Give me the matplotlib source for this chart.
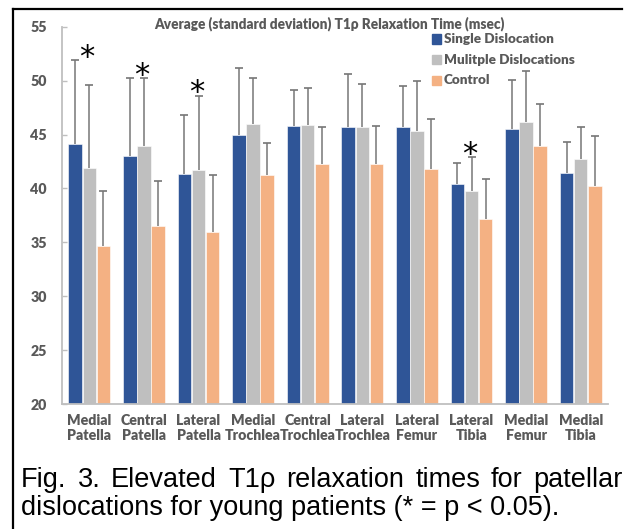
import matplotlib
matplotlib.use('Agg')
import matplotlib.pyplot as plt
import numpy as np
from matplotlib.lines import Line2D

categories = ["Medial\nPatella", "Central\nPatella", "Lateral\nPatella", "Medial\nTrochlea",
              "Central\nTrochlea", "Lateral\nTrochlea", "Lateral\nFemur", "Lateral\nTibia",
              "Medial\nFemur", "Medial\nTibia"]
series_names = ["Single Dislocation", "Mulitple Dislocations", "Control"]
single_mean = [44.1, 43.0, 41.3, 45.0, 45.8, 45.7, 45.7, 40.4, 45.5, 41.4]
single_sd = [7.8, 7.2, 5.5, 6.2, 3.3, 4.9, 3.8, 2.0, 4.6, 2.95]
multiple_mean = [41.9, 43.9, 41.7, 46.0, 45.9, 45.7, 45.3, 39.8, 46.2, 42.7]
multiple_sd = [7.7, 6.3, 6.9, 4.2, 3.4, 4.0, 4.7, 3.1, 4.7, 3.0]
control_mean = [34.7, 36.5, 36.0, 41.2, 42.3, 42.3, 41.8, 37.2, 43.9, 40.2]
control_sd = [5.1, 4.2, 5.2, 3.0, 3.4, 3.5, 4.6, 3.7, 3.9, 4.7]
significant = [True, True, True, False, False, False, False, True, False, False]
yticks = [20, 25, 30, 35, 40, 45, 50, 55]
title = "Average (standard deviation) T1\u03c1 Relaxation Time (msec)"
caption1 = "Fig. 3. Elevated T1\u03c1 relaxation times for patellar"
caption2 = "dislocations for young patients (* = p < 0.05)."

colors = ["#2F5597", "#BFBFBF", "#F4B183"]
TXT = "#595959"
FONT = ["Lato", "DejaVu Sans"]
WEIGHT = 'heavy'

W, H = 632, 529
fig = plt.figure(figsize=(W / 100, H / 100), dpi=100)
ax = fig.add_axes([62 / W, 1 - 404 / H, 546 / W, (404 - 26.7) / H])

x = np.arange(len(categories))
bw = 0.248
means = [single_mean, multiple_mean, control_mean]
sds = [single_sd, multiple_sd, control_sd]
for k in range(3):
    pos = x + (k - 1) * (bw + 0.01)
    m = np.array(means[k])
    s = np.array(sds[k])
    ax.bar(pos, m - 20, bottom=20, width=bw, color=colors[k], edgecolor='white',
           linewidth=0.4, label=series_names[k], zorder=2)
    ax.vlines(pos, m, m + s, colors='#767676', linewidth=1.1, zorder=3)
    ax.plot(pos, m + s, linestyle='none', marker='_', markersize=5.5,
            markeredgewidth=1.2, color='#767676', zorder=3)

tops = np.max([np.array(means[k]) + np.array(sds[k]) for k in range(3)], axis=0)
for i, sig in enumerate(significant):
    if sig:
        ax.text(x[i] - 0.04, tops[i] + 0.25, "*", ha='center', va='center',
                fontsize=22, color='black', family=["DejaVu Sans"])

ax.set_xlim(-0.5, len(categories) - 0.5)
ax.set_ylim(20, 55)
ax.set_yticks(yticks)
ax.set_yticklabels([str(v) for v in yticks], family=FONT, fontweight=WEIGHT,
                   color=TXT, fontsize=10.3)
ax.set_xticks(x)
ax.set_xticklabels(categories, family=FONT, fontweight=WEIGHT, color=TXT,
                   fontsize=10.2, linespacing=1.2)
ax.tick_params(axis='x', length=0, pad=7)
ax.tick_params(axis='y', direction='in', length=3.5, color='#BFBFBF', width=1, pad=11)
for sp in ['top', 'right']:
    ax.spines[sp].set_visible(False)
for sp in ['left', 'bottom']:
    ax.spines[sp].set_color('#BFBFBF')
    ax.spines[sp].set_linewidth(1.3)

fig.text(329 / W, 1 - 24 / H, title, ha='center', va='center', family=FONT,
         fontweight=WEIGHT, color=TXT, fontsize=9.8)

# legend
for k in range(3):
    yy = 1 - (39 + 20.7 * k) / H
    fig.patches.append(plt.Rectangle((432 / W, yy - 4.5 / H), 8.5 / W, 9 / H,
                                     transform=fig.transFigure, color=colors[k]))
    fig.text(444 / W, yy, series_names[k], ha='left', va='center', family=FONT,
             fontweight=WEIGHT, color=TXT, fontsize=9.7)

# frame lines
fig.add_artist(Line2D([12.5 / W, 12.5 / W], [0, 1 - 9 / H], color='black', lw=1.6,
                      transform=fig.transFigure))
fig.add_artist(Line2D([12.5 / W, 622 / W], [1 - 9 / H, 1 - 9 / H], color='black', lw=1.6,
                      transform=fig.transFigure))

# caption
CAPFONT = ["Liberation Sans", "DejaVu Sans"]
CAPSIZE = 19.5
fig.canvas.draw()
r = fig.canvas.get_renderer()
words = caption1.split(" ")
texts = [fig.text(0, 1 - 487 / H, w, ha='left', va='baseline', family=CAPFONT,
                  fontsize=CAPSIZE, color='black') for w in words]
widths = [t.get_window_extent(r).width for t in texts]
x0, x1 = 21.0, 623.0
gap = ((x1 - x0) - sum(widths)) / (len(words) - 1)
xx = x0
for t, w in zip(texts, widths):
    t.set_x(xx / W)
    xx += w + gap
fig.text(x0 / W, 1 - 515 / H, caption2, ha='left', va='baseline', family=CAPFONT,
         fontsize=CAPSIZE, color='black')

fig.savefig("out.png", dpi=100)
